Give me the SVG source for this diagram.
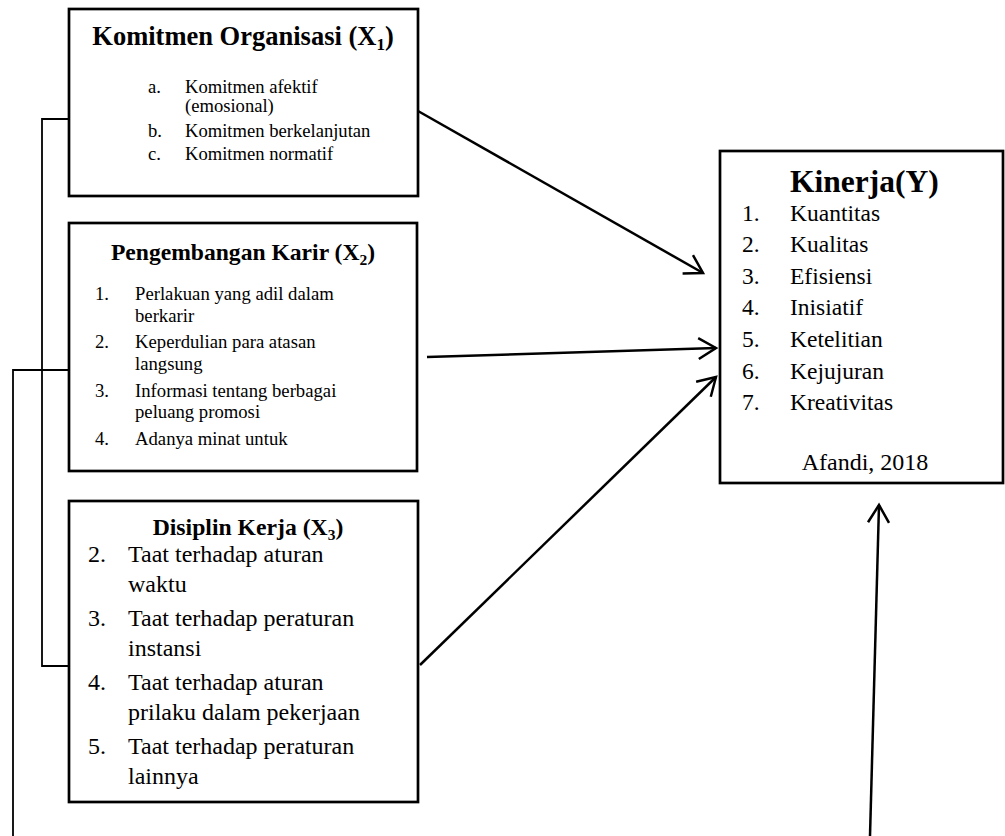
<svg xmlns="http://www.w3.org/2000/svg" width="1005" height="836" viewBox="0 0 1005 836">
<defs>
<style>
.box{fill:#fff;stroke:#000;stroke-width:2.7}
.t{font-family:"Liberation Serif","Times New Roman",serif;fill:#000}
.b{font-weight:bold}
.conn{stroke:#000;stroke-width:2.5;fill:none}
.br{stroke:#000;stroke-width:1.8;fill:none}
.s1{font-size:18.6px}
.s2{font-size:18.7px}
.s3{font-size:24px}
.s4{font-size:23.5px}
</style>
<marker id="arr" markerUnits="userSpaceOnUse" markerWidth="26" markerHeight="26" viewBox="-22 -13 26 26" refX="0" refY="0" orient="auto">
<path d="M-17.5,-10.5 L0,0 L-17.5,10.5" fill="none" stroke="#000" stroke-width="2.5" stroke-linejoin="miter"/>
</marker>
</defs>
<rect width="1005" height="836" fill="#fff"/>

<g id="connectors">
<polyline class="br" points="69,119 42,119 42,666 69,666"/>
<polyline class="br" points="69,370 13,370 13,836"/>
<line class="conn" x1="418" y1="111" x2="703" y2="273" marker-end="url(#arr)"/>
<line class="conn" x1="427" y1="357" x2="716" y2="348" marker-end="url(#arr)"/>
<line class="conn" x1="420" y1="665" x2="716" y2="377" marker-end="url(#arr)"/>
<line class="conn" x1="870" y1="836" x2="879" y2="505" marker-end="url(#arr)"/>
</g>

<g id="node-x1">
<rect class="box" x="69" y="9" width="349" height="187"/>
<text class="t b" x="243" y="45" font-size="26.5" text-anchor="middle">Komitmen Organisasi (X<tspan font-size="17" dy="5">1</tspan><tspan dy="-5">)</tspan></text>
<g class="t s1">
<text x="148" y="93">a.</text><text x="185" y="93">Komitmen afektif</text>
<text x="185" y="112">(emosional)</text>
<text x="148" y="137">b.</text><text x="185" y="137">Komitmen berkelanjutan</text>
<text x="148" y="160">c.</text><text x="185" y="160">Komitmen normatif</text>
</g>
</g>

<g id="node-x2">
<rect class="box" x="69" y="223" width="348" height="248"/>
<text class="t b" x="243" y="260" font-size="23.6" text-anchor="middle">Pengembangan Karir (X<tspan font-size="15.5" dy="5">2</tspan><tspan dy="-5">)</tspan></text>
<g class="t s2">
<text x="95" y="300">1.</text><text x="135" y="300">Perlakuan yang adil dalam</text>
<text x="135" y="322">berkarir</text>
<text x="95" y="348">2.</text><text x="135" y="348">Keperdulian para atasan</text>
<text x="135" y="370">langsung</text>
<text x="95" y="397">3.</text><text x="135" y="397">Informasi tentang berbagai</text>
<text x="135" y="418">peluang promosi</text>
<text x="95" y="445">4.</text><text x="135" y="445">Adanya minat untuk</text>
</g>
</g>

<g id="node-x3">
<rect class="box" x="69" y="501" width="349" height="301"/>
<text class="t b" x="248" y="535" font-size="23.7" text-anchor="middle">Disiplin Kerja (X<tspan font-size="15.5" dy="5">3</tspan><tspan dy="-5">)</tspan></text>
<g class="t s3">
<text x="88" y="562">2.</text><text x="128" y="562">Taat terhadap aturan</text>
<text x="128" y="592">waktu</text>
<text x="88" y="626">3.</text><text x="128" y="626">Taat terhadap peraturan</text>
<text x="128" y="656">instansi</text>
<text x="88" y="690">4.</text><text x="128" y="690">Taat terhadap aturan</text>
<text x="128" y="720">prilaku dalam pekerjaan</text>
<text x="88" y="754">5.</text><text x="128" y="754">Taat terhadap peraturan</text>
<text x="128" y="784">lainnya</text>
</g>
</g>

<g id="node-y">
<rect class="box" x="720" y="151" width="283" height="332"/>
<text class="t b" x="790" y="192" font-size="31.5">Kinerja(Y)</text>
<g class="t s4">
<text x="742" y="221">1.</text><text x="790" y="221">Kuantitas</text>
<text x="742" y="252">2.</text><text x="790" y="252">Kualitas</text>
<text x="742" y="284">3.</text><text x="790" y="284">Efisiensi</text>
<text x="742" y="315">4.</text><text x="790" y="315">Inisiatif</text>
<text x="742" y="347">5.</text><text x="790" y="347">Ketelitian</text>
<text x="742" y="379">6.</text><text x="790" y="379">Kejujuran</text>
<text x="742" y="410">7.</text><text x="790" y="410">Kreativitas</text>
<text x="865" y="470" font-size="24" text-anchor="middle">Afandi, 2018</text>
</g>
</g>
</svg>
